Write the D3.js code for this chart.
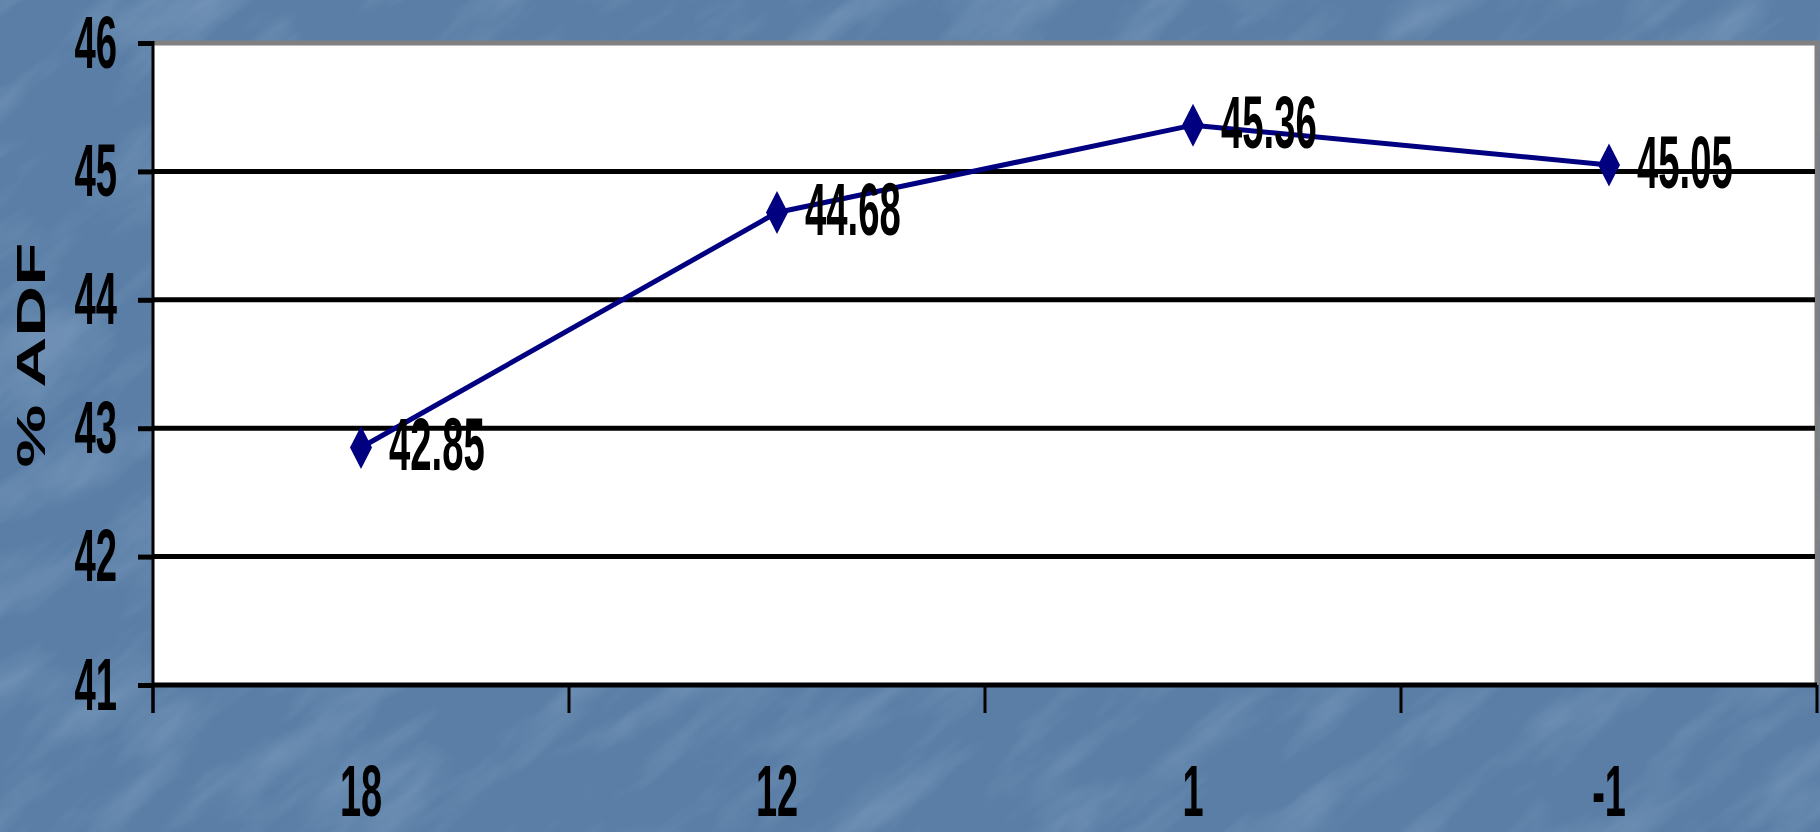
<!DOCTYPE html>
<html>
<head>
<meta charset="utf-8">
<script src="https://cdn.jsdelivr.net/npm/d3@7/dist/d3.min.js"></script>
<style>
  html, body { margin: 0; padding: 0; overflow: hidden; background: #5a7ea6; }
  svg { display: block; }
</style>
</head>
<body>
<svg id="chart" width="1820" height="832"></svg>
<script>
// Chart data
const categories = ["18", "12", "1", "-1"];
const adfValues = [42.85, 44.68, 45.36, 45.05];
const yTicks = [41, 42, 43, 44, 45, 46];
const yTitle = "% ADF";

const W = 1820, H = 832;
const plot = { left: 153, right: 1817, top: 43, bottom: 685 };
const condense = 0.51;   // narrow, tall numerals
const numFont = "'Liberation Sans', Arial, sans-serif";

const svg = d3.select("#chart");

// Textured blue backdrop
const defs = svg.append("defs");
const f = defs.append("filter").attr("id", "grain")
  .attr("x", 0).attr("y", 0).attr("width", "100%").attr("height", "100%");
f.append("feTurbulence").attr("type", "fractalNoise")
  .attr("baseFrequency", "0.006 0.022").attr("numOctaves", 4).attr("seed", 7);
f.append("feColorMatrix").attr("type", "matrix")
  .attr("values", "0 0 0 0 0.47  0 0 0 0 0.61  0 0 0 0 0.78  0 0 0 1.5 -0.68");
f.append("feComposite").attr("in2", "SourceGraphic").attr("operator", "in");

svg.append("rect").attr("width", W).attr("height", H).attr("fill", "#5a7ea6");
svg.append("g").attr("transform", `rotate(-38 ${W / 2} ${H / 2})`)
  .append("rect")
  .attr("x", -600).attr("y", -700).attr("width", W + 1200).attr("height", H + 1400)
  .attr("fill", "#fff").attr("filter", "url(#grain)").attr("opacity", 0.4);

// Scales
const x = d3.scaleBand().domain(categories).range([plot.left, plot.right]).padding(0);
const y = d3.scaleLinear().domain([41, 46]).range([plot.bottom, plot.top]);

// Plot area
svg.append("rect")
  .attr("x", plot.left).attr("y", plot.top)
  .attr("width", plot.right - plot.left).attr("height", plot.bottom - plot.top)
  .attr("fill", "#ffffff");

// Grey frame on top and right
svg.append("path")
  .attr("d", `M${plot.left},${plot.top}H${plot.right}V${plot.bottom}`)
  .attr("fill", "none").attr("stroke", "#808080").attr("stroke-width", 5);

// Horizontal gridlines
svg.append("g").selectAll("line")
  .data(yTicks.filter(v => v > 41 && v < 46))
  .join("line")
  .attr("x1", plot.left).attr("x2", plot.right - 2)
  .attr("y1", d => y(d)).attr("y2", d => y(d))
  .attr("stroke", "#000").attr("stroke-width", 5);

// Y axis
const yAxis = svg.append("g")
  .attr("transform", `translate(${plot.left},0)`)
  .call(d3.axisLeft(y).tickValues(yTicks).tickSize(15).tickPadding(0).tickFormat(d3.format("d")));
yAxis.select(".domain").remove();
yAxis.selectAll(".tick line").attr("stroke", "#000").attr("stroke-width", 5);
yAxis.selectAll(".tick text")
  .attr("x", null).attr("dy", null).attr("y", null)
  .attr("text-anchor", "end")
  .attr("transform", `translate(-36,24) scale(${condense},1)`)
  .attr("font-family", numFont).attr("font-weight", "bold")
  .attr("font-size", 75).attr("fill", "#000");
svg.append("line")
  .attr("x1", plot.left).attr("x2", plot.left)
  .attr("y1", plot.top - 2).attr("y2", plot.bottom + 28)
  .attr("stroke", "#000").attr("stroke-width", 3);

// X axis
const xAxis = svg.append("g")
  .attr("transform", `translate(0,${plot.bottom})`)
  .call(d3.axisBottom(x).tickSize(0).tickPadding(0));
xAxis.select(".domain")
  .attr("d", `M${plot.left},0H${plot.right}`)
  .attr("stroke", "#000").attr("stroke-width", 5);
xAxis.selectAll(".tick text")
  .attr("y", null).attr("dy", null)
  .attr("text-anchor", "middle")
  .attr("transform", `translate(0,131) scale(0.52,1)`)
  .attr("font-family", numFont).attr("font-weight", "bold")
  .attr("font-size", 73).attr("fill", "#000");
// Category boundary ticks
svg.append("g").selectAll("line")
  .data(d3.range(categories.length + 1))
  .join("line")
  .attr("x1", i => plot.left + i * x.step()).attr("x2", i => plot.left + i * x.step())
  .attr("y1", plot.bottom).attr("y2", plot.bottom + 28)
  .attr("stroke", "#000").attr("stroke-width", 3);

// Y axis title
svg.append("text")
  .attr("transform", `translate(45,355) rotate(-90)`)
  .attr("text-anchor", "middle")
  .attr("font-family", numFont).attr("font-weight", "bold")
  .attr("font-size", 40).attr("fill", "#000")
  .attr("textLength", 225).attr("lengthAdjust", "spacingAndGlyphs")
  .text(yTitle);

// Series line
const pts = categories.map((c, i) => ({ c, v: adfValues[i] }));
const cx = d => x(d.c) + x.bandwidth() / 2;
svg.append("path")
  .datum(pts)
  .attr("d", d3.line().x(cx).y(d => y(d.v)))
  .attr("fill", "none").attr("stroke", "#000080").attr("stroke-width", 5)
  .attr("stroke-linejoin", "round");

// Diamond markers
svg.append("g").selectAll("path")
  .data(pts)
  .join("path")
  .attr("transform", d => `translate(${cx(d)},${y(d.v)})`)
  .attr("d", "M0,-21.5L11,0L0,21.5L-11,0Z")
  .attr("fill", "#000080");

// Value labels
svg.append("g").selectAll("text")
  .data(pts)
  .join("text")
  .attr("transform", d => `translate(${cx(d) + 28},${y(d.v) + 23}) scale(${condense},1)`)
  .attr("font-family", numFont).attr("font-weight", "bold")
  .attr("font-size", 75).attr("fill", "#000")
  .text(d => d.v.toFixed(2));
</script>
</body>
</html>
